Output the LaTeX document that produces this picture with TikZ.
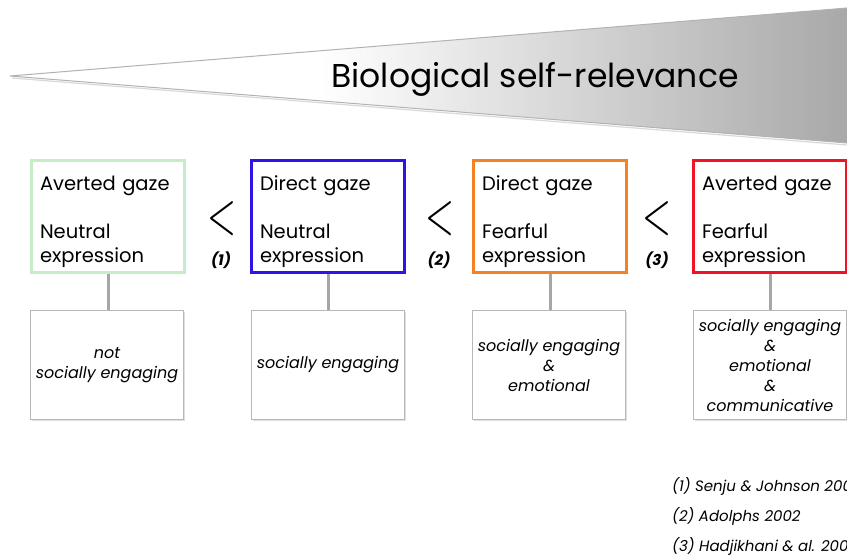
\documentclass[tikz,border=0pt]{standalone}
\usepackage{fontspec}
\usepackage{graphicx}
\setmainfont{Poppins}
\usetikzlibrary{shadows}
\definecolor{cgreen}{HTML}{C6EDC6}
\definecolor{cblue}{HTML}{2E14E6}
\definecolor{corange}{HTML}{F58220}
\definecolor{cred}{HTML}{EE1424}
\newcommand{\bigless}{\resizebox{29pt}{32pt}{$<$}}
\begin{document}
\begin{tikzpicture}[x=1pt,y=-1pt,
  topbox/.style={draw, line width=3pt, minimum width=153pt, minimum height=112pt, inner sep=0pt},
  toptext/.style={inner sep=0pt, text width=136pt, align=left, font=\fontsize{19.5}{24}\selectfont},
  botbox/.style={draw=black!28, line width=1.2pt, fill=white, minimum width=153pt, minimum height=109pt,
     inner sep=0pt, align=center, font=\fontsize{16}{20}\selectfont\itshape,
     drop shadow={shadow xshift=1pt, shadow yshift=-1.5pt, opacity=0.25}},
  link/.style={draw=black!35, line width=3pt},
  lt/.style={inner sep=0pt},
  refnum/.style={font=\fontsize{15}{15}\selectfont\bfseries\itshape, inner sep=0pt},
  reftext/.style={font=\fontsize{15}{15}\selectfont\itshape, anchor=west, inner sep=0pt}]
\useasboundingbox (0,0) rectangle (847,556);
\clip (0,0) rectangle (847,556);
% wedge
\fill[white] (10,76) -- (847,8) -- (847,143) -- cycle;
\begin{scope}
  \clip (10,76) -- (847,8) -- (847,143) -- cycle;
  \shade[left color=white, right color=black!34] (320,0) rectangle (847,150);
\end{scope}
\draw[black!30, line width=1pt] (847,8) -- (10,76) -- (847,143);
\draw[black!15, line width=1.2pt] (12,78) -- (847,145);
\node[font=\fontsize{33}{33}\selectfont, inner sep=0pt] (title) at (535,79) {Biological self-relevance};
% top boxes
\node[topbox, draw=cgreen] (t1) at (108,216.5) {};
\node[topbox, draw=cblue] (t2) at (328,216.5) {};
\node[topbox, draw=corange] (t3) at (550,216.5) {};
\node[topbox, draw=cred] (t4) at (770,216.5) {};
\node[toptext] (l1) at (108,222) {Averted gaze\\[24pt]Neutral\\expression};
\node[toptext] (l2) at (328,222) {Direct gaze\\[24pt]Neutral\\expression};
\node[toptext] (l3) at (550,222) {Direct gaze\\[24pt]Fearful\\expression};
\node[toptext] (l4) at (770,222) {Averted gaze\\[24pt]Fearful\\expression};
% comparison signs
\node[lt] (c1) at (222,219) {\bigless};
\node[lt] (c2) at (440,219) {\bigless};
\node[lt] (c3) at (657,219) {\bigless};
\node[refnum] (n1) at (221,260) {(1)};
\node[refnum] (n2) at (439,260) {(2)};
\node[refnum] (n3) at (657,260) {(3)};
% bottom boxes
\node[botbox] (b1) at (107,365) {not\\socially engaging};
\node[botbox] (b2) at (328,365) {socially engaging};
\node[botbox] (b3) at (549,365) {socially engaging\\\&\\emotional};
\node[botbox] (b4) at (770,365) {socially engaging\\\&\\emotional\\\&\\communicative};
% links
\draw[link] (t1.south) -- (b1.north -| t1.south);
\draw[link] (t2.south) -- (b2.north -| t2.south);
\draw[link] (t3.south) -- (b3.north -| t3.south);
\draw[link] (t4.south) -- (b4.north -| t4.south);
% references
\node[reftext] (r1) at (672,486) {(1) Senju \& Johnson 200};
\node[reftext] (r2) at (672,516) {(2) Adolphs 2002};
\node[reftext] (r3) at (672,546) {(3) Hadjikhani \& al. 200};
\end{tikzpicture}
\end{document}
